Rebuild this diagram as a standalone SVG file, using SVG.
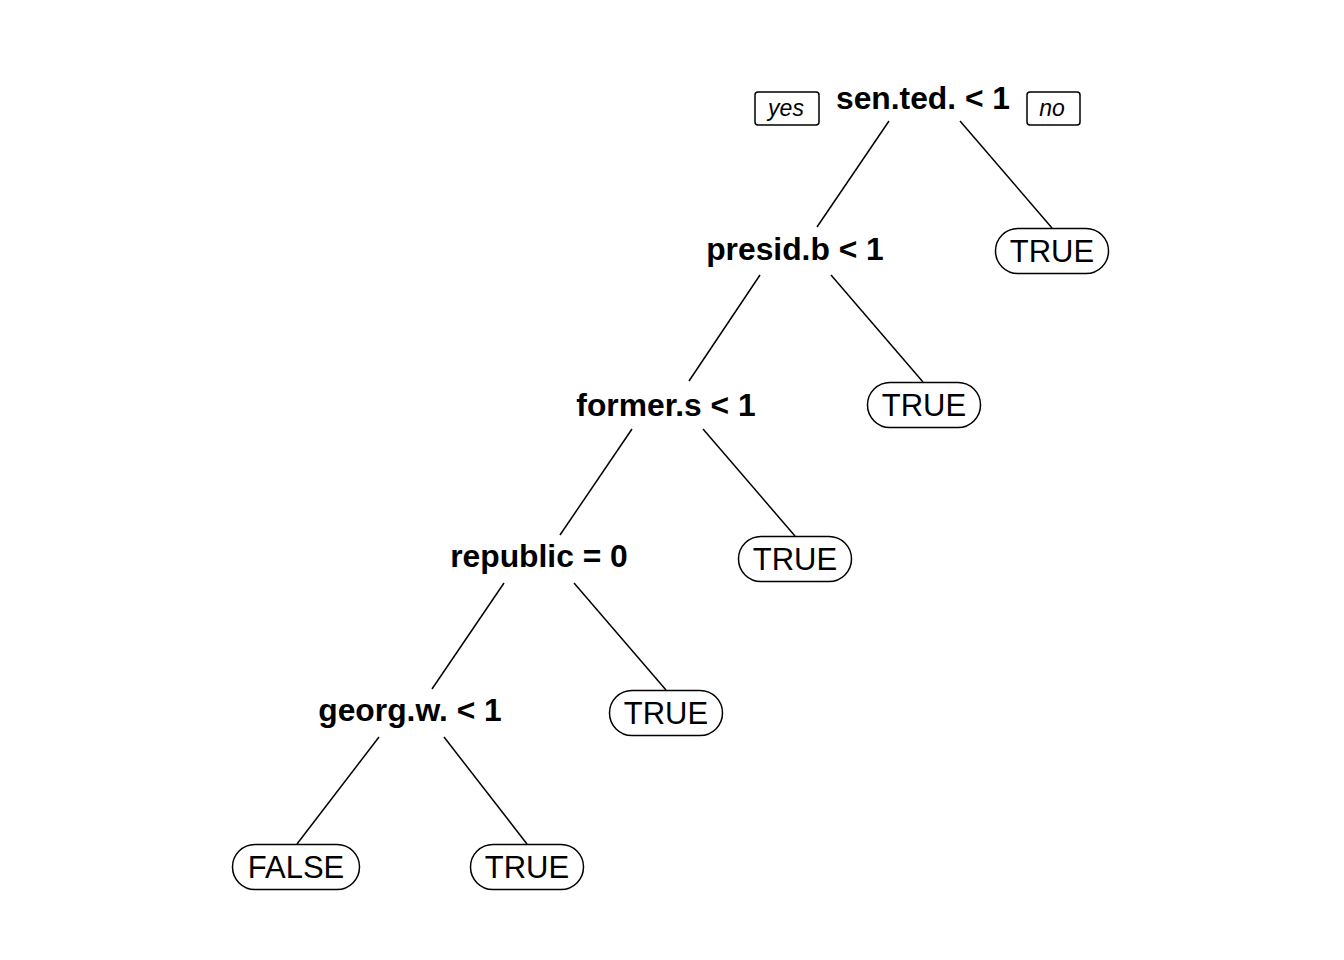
<svg xmlns="http://www.w3.org/2000/svg" width="1344" height="960" viewBox="0 0 1344 960">
<style>
.split{font-family:"Liberation Sans",Arial,sans-serif;font-weight:bold;font-size:31.800px;text-anchor:middle;fill:#000}
.leaf text{font-family:"Liberation Sans",Arial,sans-serif;font-size:31px;text-anchor:middle;fill:#000}
.leaf rect{fill:#fff;stroke:#000;stroke-width:1.5}
.yn rect{fill:#fff;stroke:#000;stroke-width:1.5}
.yn text{font-family:"Liberation Sans",Arial,sans-serif;font-style:italic;font-size:23px;text-anchor:middle;fill:#000}
#edges line{stroke:#000;stroke-width:1.5}
</style>
<rect width="1344" height="960" fill="#fff"/>
<g id="edges">
<line x1="889" y1="121" x2="817" y2="227"/>
<line x1="960" y1="121" x2="1052" y2="228"/>
<line x1="760" y1="275" x2="689" y2="381"/>
<line x1="831" y1="275" x2="923" y2="382"/>
<line x1="632" y1="429" x2="560" y2="535"/>
<line x1="703" y1="429" x2="795" y2="536"/>
<line x1="504" y1="583" x2="432" y2="689"/>
<line x1="574" y1="583" x2="666" y2="690"/>
<line x1="379" y1="737" x2="297" y2="844"/>
<line x1="444" y1="737" x2="527" y2="844"/>
</g>
<g id="n-root"><text class="split" x="923" y="109">sen.ted. &lt; 1</text></g>
<g id="yes" class="yn"><rect x="755" y="92" width="64" height="33" rx="3"/><text x="786" y="116">yes</text></g>
<g id="no" class="yn"><rect x="1027" y="92" width="53" height="33" rx="3"/><text x="1052" y="116">no</text></g>
<g id="n-presid"><text class="split" x="795" y="260">presid.b &lt; 1</text></g>
<g id="n-former"><text class="split" x="666" y="416">former.s &lt; 1</text></g>
<g id="n-republic"><text class="split" x="539" y="567">republic = 0</text></g>
<g id="n-georg"><text class="split" x="410" y="721">georg.w. &lt; 1</text></g>
<g id="leaf1" class="leaf"><rect x="995.500" y="228.500" width="113" height="45" rx="22.500"/><text x="1052" y="262">TRUE</text></g>
<g id="leaf2" class="leaf"><rect x="867.500" y="382.500" width="113" height="45" rx="22.500"/><text x="924" y="416">TRUE</text></g>
<g id="leaf3" class="leaf"><rect x="738.500" y="536.500" width="113" height="45" rx="22.500"/><text x="795" y="570">TRUE</text></g>
<g id="leaf4" class="leaf"><rect x="609.500" y="690.500" width="113" height="45" rx="22.500"/><text x="666" y="724">TRUE</text></g>
<g id="leaf5" class="leaf"><rect x="232.500" y="844.500" width="127" height="45" rx="22.500"/><text x="296" y="878">FALSE</text></g>
<g id="leaf6" class="leaf"><rect x="470.500" y="844.500" width="113" height="45" rx="22.500"/><text x="527" y="878">TRUE</text></g>
</svg>
